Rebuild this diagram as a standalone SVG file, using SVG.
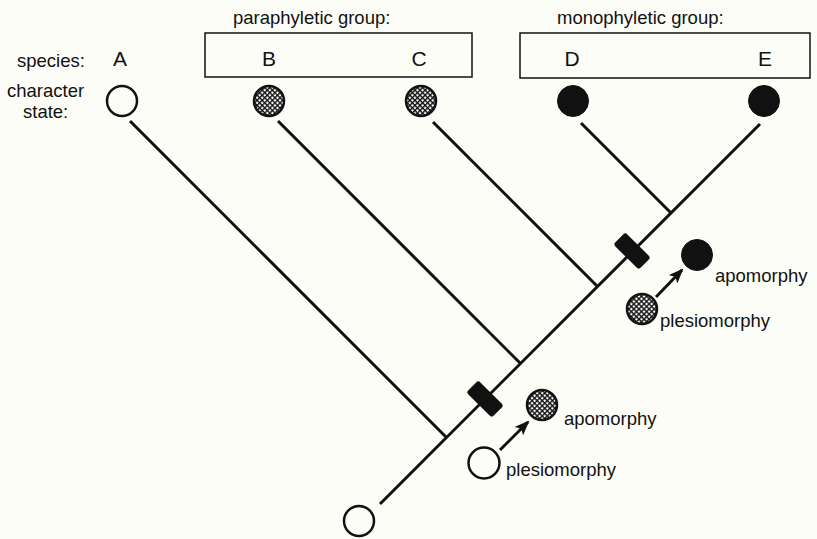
<svg xmlns="http://www.w3.org/2000/svg" width="817" height="539" viewBox="0 0 817 539">
<style>
text{font-family:"Liberation Sans",Arial,sans-serif;font-size:18.5px;fill:#111}
text.sp{font-size:21px;text-anchor:middle}
.ln{stroke:#111;stroke-width:3;fill:none;stroke-linecap:butt}
.open{fill:#fdfdf7;stroke:#111;stroke-width:2.5}
.hatch{fill:url(#hx);stroke:#111;stroke-width:2.5}
.solid{fill:#111;stroke:#111;stroke-width:1}
.box{fill:none;stroke:#111;stroke-width:1.5}
.tick{fill:#111}
</style>
<defs>
<pattern id="hx" width="3.6" height="3.6" patternUnits="userSpaceOnUse" patternTransform="rotate(45)">
<rect width="3.6" height="3.6" fill="#fff"/>
<rect width="3.6" height="1.4" fill="#111"/>
<rect width="1.4" height="3.6" fill="#111"/>
</pattern>
<marker id="ah" markerWidth="15" markerHeight="12" refX="13" refY="6" orient="auto" markerUnits="userSpaceOnUse">
<path d="M0,0 L15,6 L0,12 L3.5,6 Z" fill="#111"/>
</marker>
</defs>
<rect width="817" height="539" fill="#fdfdf7"/>

<g id="labels">
<text x="17" y="67">species:</text>
<text x="7" y="97">character</text>
<text x="23" y="118">state:</text>
<text x="233" y="24">paraphyletic group:</text>
<text x="557" y="24">monophyletic group:</text>
</g>

<g id="paraphyletic-box"><rect class="box" x="205" y="33" width="267" height="44"/></g>
<g id="monophyletic-box"><rect class="box" x="520" y="33" width="290" height="45"/></g>

<g id="connectors">
<line class="ln" x1="380" y1="504" x2="760" y2="124"/>
<line class="ln" x1="130" y1="121" x2="446.5" y2="437.5"/>
<line class="ln" x1="278" y1="121" x2="520.5" y2="363.5"/>
<line class="ln" x1="433" y1="122" x2="597.5" y2="286.5"/>
<line class="ln" x1="581" y1="123" x2="671" y2="213"/>
<line class="ln" x1="500" y1="450" x2="528" y2="422" marker-end="url(#ah)"/>
<line class="ln" x1="656" y1="297" x2="682" y2="270" marker-end="url(#ah)"/>
</g>

<g id="speciesA"><text class="sp" x="120" y="66">A</text><circle class="open" cx="122" cy="101" r="15"/></g>
<g id="speciesB"><text class="sp" x="269" y="66">B</text><circle class="hatch" cx="269" cy="101" r="15"/></g>
<g id="speciesC"><text class="sp" x="419" y="66">C</text><circle class="hatch" cx="421" cy="101" r="15"/></g>
<g id="speciesD"><text class="sp" x="572" y="66">D</text><circle class="solid" cx="573" cy="101" r="15.5"/></g>
<g id="speciesE"><text class="sp" x="765" y="66">E</text><circle class="solid" cx="764" cy="101" r="15.5"/></g>
<g id="root"><circle class="open" cx="359" cy="521" r="15"/></g>

<g id="tick1"><rect class="tick" x="-18" y="-8.5" width="36" height="17" rx="3" transform="translate(485,399) rotate(45)"/></g>
<g id="tick2"><rect class="tick" x="-18" y="-8.5" width="36" height="17" rx="3" transform="translate(632,251) rotate(45)"/></g>

<g id="legend-lower">
<circle class="open" cx="484" cy="463" r="15.5"/>
<circle class="hatch" cx="542" cy="405" r="15"/>
<text x="564" y="425">apomorphy</text>
<text x="506" y="476">plesiomorphy</text>
</g>
<g id="legend-upper">
<circle class="hatch" cx="642" cy="309" r="15"/>
<circle class="solid" cx="697" cy="255" r="15.5"/>
<text x="715" y="282">apomorphy</text>
<text x="660" y="327">plesiomorphy</text>
</g>
</svg>
